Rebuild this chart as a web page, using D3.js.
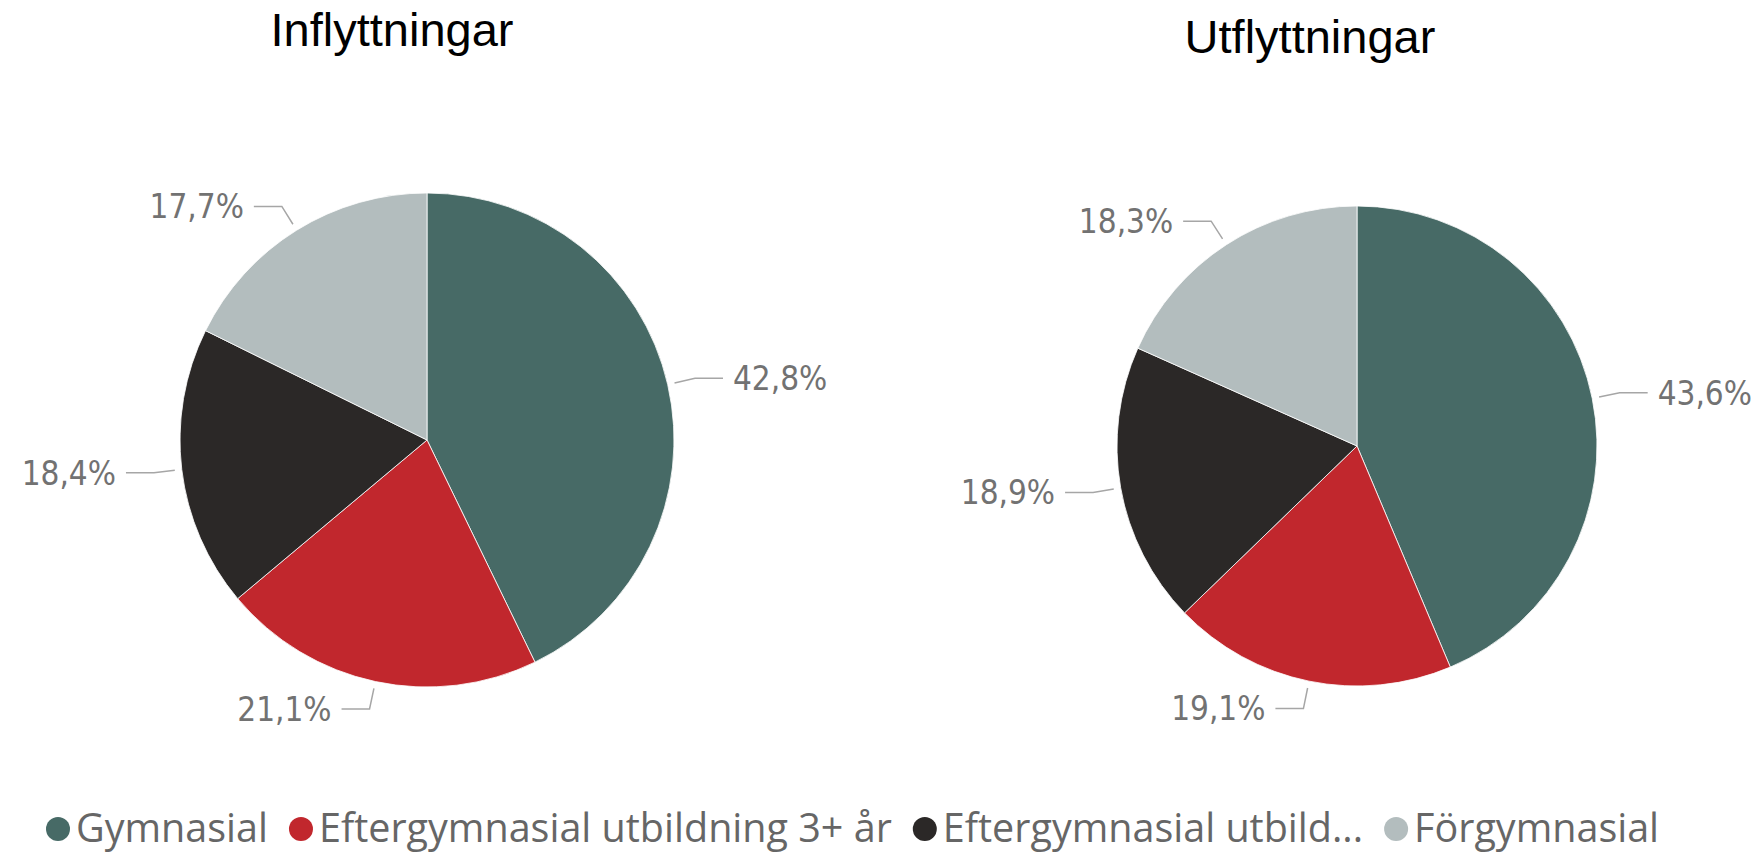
<!DOCTYPE html>
<meta charset="utf-8">
<head>
  <script src="https://cdn.jsdelivr.net/npm/d3@7"></script>
</head>
<style>
  body {
    margin: 0;
    background: #fff;
  }
  .title {
    font-family: "Liberation Sans", Arial, sans-serif;
    font-size: 47px;
    fill: #000;
  }
  .slice {
    stroke: #fff;
    stroke-width: 0.8px;
  }
  .label {
    font-family: "DejaVu Sans Condensed", "DejaVu Sans", sans-serif;
    font-stretch: condensed;
    font-size: 33px;
    fill: #727272;
  }
  .leader {
    fill: none;
    stroke: #a6a6a6;
    stroke-width: 1.5px;
  }
  .legend text {
    font-family: "Open Sans", sans-serif;
    font-size: 39.5px;
    fill: #666;
  }
</style>
<body>
</body>
<script>

var width = 1762,
    height = 853;

var categories = ["Gymnasial", "Eftergymnasial utbildning 3+ år", "Eftergymnasial utbild...", "Förgymnasial"];
var colors = ["#476a66", "#c1272d", "#2b2827", "#b3bdbe"];

var inflyttningar = [42.8, 21.1, 18.4, 17.7];
var utflyttningar = [43.6, 19.1, 18.9, 18.3];

var titles = ["Inflyttningar", "Utflyttningar"];

var svLocale = d3.formatLocale({decimal: ",", thousands: " ", grouping: [3], currency: ["", " kr"]});
var pct = function(v) { return svLocale.format(".1f")(v) + "%"; };

var color = d3.scaleOrdinal().domain(categories).range(colors);

var svg = d3.select("body").append("svg")
    .attr("width", width)
    .attr("height", height);

var pie = d3.pie().sort(null).value(function(d) { return d.value; });

// one pie per panel
var panels = [
  {title: titles[0], values: inflyttningar, cx: 427, cy: 440, r: 247, tx: 392, ty: 46},
  {title: titles[1], values: utflyttningar, cx: 1357, cy: 446, r: 240, tx: 1310, ty: 53}
];

panels.forEach(function(p) {
  svg.append("text")
    .attr("class", "title")
    .attr("x", p.tx)
    .attr("y", p.ty)
    .attr("text-anchor", "middle")
    .text(p.title);

  var data = p.values.map(function(v, i) { return {cat: categories[i], value: v}; });
  var arcs = pie(data);

  var arc = d3.arc().innerRadius(0).outerRadius(p.r);

  var g = svg.append("g")
    .attr("transform", "translate(" + p.cx + "," + p.cy + ")");

  g.selectAll("path.slice")
    .data(arcs)
    .enter().append("path")
      .attr("class", "slice")
      .attr("d", arc)
      .style("fill", function(d) { return color(d.data.cat); });

  var pt = function(a, rad) { return [rad * Math.sin(a), -rad * Math.cos(a)]; };

  arcs.forEach(function(d) {
    var mid = (d.startAngle + d.endAngle) / 2;
    var right = Math.sin(mid) >= 0;
    var p0 = pt(mid, p.r + 7),
        p1 = pt(mid, p.r + 28),
        p2 = [p1[0] + (right ? 28 : -28), p1[1]];

    g.append("path")
      .attr("class", "leader")
      .attr("d", d3.line()([p0, p1, p2]));

    g.append("text")
      .attr("class", "label")
      .attr("x", p2[0] + (right ? 10 : -10))
      .attr("y", p2[1])
      .attr("dy", "0.36em")
      .attr("text-anchor", right ? "start" : "end")
      .text(pct(d.data.value));
  });
});

// legend along the bottom
var legend = svg.append("g")
  .attr("class", "legend")
  .attr("transform", "translate(0,829)");

var lx = 46;
categories.forEach(function(c) {
  var item = legend.append("g").attr("transform", "translate(" + lx + ",0)");
  item.append("circle")
    .attr("cx", 12)
    .attr("cy", 0)
    .attr("r", 12)
    .style("fill", color(c));
  var t = item.append("text")
    .attr("x", 30)
    .attr("y", 0)
    .attr("dy", "0.33em")
    .text(c);
  lx += 30 + t.node().getComputedTextLength() + 21;
});

</script>
</html>
